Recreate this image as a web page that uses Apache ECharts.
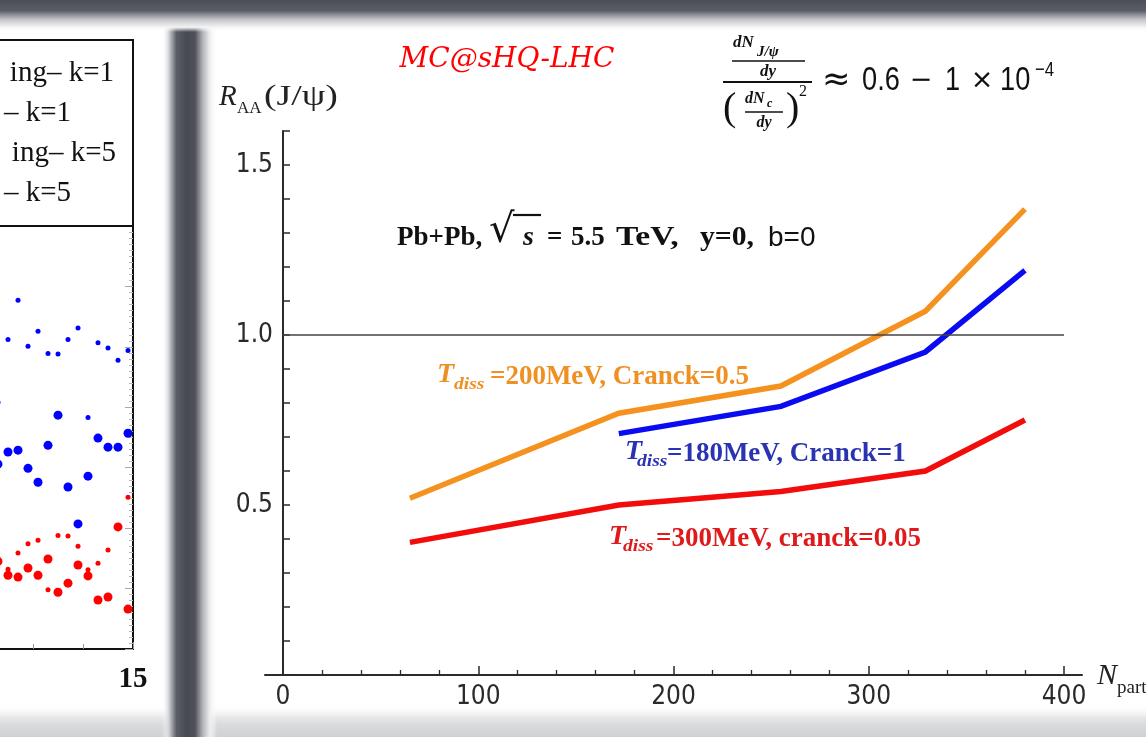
<!DOCTYPE html>
<html>
<head>
<meta charset="utf-8">
<script src="https://cdn.jsdelivr.net/npm/echarts@6/dist/echarts.min.js"></script>
<style>
  html, body { margin: 0; padding: 0; background: #fff; }
  #chart { width: 1146px; height: 737px; }
</style>
</head>
<body>
<div id="chart"></div>
<script>
// ---- Main panel: J/psi R_AA versus N_part (Pb+Pb, 5.5 TeV) ----
const npart      = [65, 172, 255, 329, 380];
const npartT180  = [172, 255, 329, 380];
const raaT200    = [0.52, 0.77, 0.85, 1.07, 1.37];   // Tdiss=200MeV, Cranck=0.5
const raaT180    = [0.71, 0.79, 0.95, 1.19];         // Tdiss=180MeV, Cranck=1
const raaT300    = [0.39, 0.50, 0.54, 0.60, 0.75];   // Tdiss=300MeV, cranck=0.05
const xTickValues = [0, 100, 200, 300, 400];
const yTickLabels = ['0.5', '1.0', '1.5'];
const yMax = 1.6;

// ---- Side panel (only its right edge is in view) ----
const sideBlueSmall = [[12.7,5.77],[12.5,5.12],[13.1,5.26],[12.9,5.01],[13.3,4.89],[13.5,4.88],[13.7,5.12],
  [13.9,5.31],[14.3,5.07],[14.5,4.98],[14.7,4.78],[14.9,4.94],[12.3,4.08],[14.1,3.83]];
const sideBlueBig = [[12.5,3.26],[12.7,3.29],[12.3,3.06],[12.9,2.99],[13.1,2.76],[13.3,3.37],[13.5,3.87],
  [13.7,2.68],[13.9,2.07],[14.1,2.86],[14.3,3.49],[14.5,3.34],[14.7,3.34],[14.9,3.57]];
const sideRedSmall = [[14.9,2.51],[12.7,1.59],[12.9,1.74],[13.1,1.80],[13.5,1.88],[13.7,1.87],[13.9,1.70],
  [13.3,0.98],[14.1,1.31],[14.3,1.42],[14.5,1.64],[12.5,1.32]];
const sideRedBig = [[12.3,1.45],[12.5,1.22],[12.7,1.19],[12.9,1.34],[13.1,1.22],[13.3,1.49],[13.5,0.94],
  [13.7,1.09],[13.9,1.39],[14.1,1.21],[14.3,0.81],[14.5,0.86],[14.7,2.02],[14.9,0.66]];
const sideLegend = ['ing\u2013 k=1', '\u2013 k=1', 'ing\u2013 k=5', '\u2013 k=5'];

const SERIF  = '"Liberation Serif", "Times New Roman", serif';
const SANS   = '"Liberation Sans", Arial, sans-serif';
const NARROW = '"Liberation Sans Narrow", "DejaVu Sans Condensed", sans-serif';
const DJS    = '"DejaVu Sans", sans-serif';

function txt(x, y, text, font, fill, opts) {
  opts = opts || {};
  return Object.assign({
    type: 'text', x: x, y: y, z: 50, silent: true,
    style: {
      text: text, font: font, fill: fill || '#111',
      align: opts.align || 'left', verticalAlign: 'middle',
      textAlign: opts.align || 'left', textVerticalAlign: 'middle'
    }
  }, opts.extra || {});
}
function hline(x1, x2, y, w, color) {
  return { type: 'line', z: 50, silent: true,
    shape: { x1: x1, y1: y, x2: x2, y2: y },
    style: { stroke: color || '#111', lineWidth: w } };
}

const chart = echarts.init(document.getElementById('chart'), null, { renderer: 'canvas' });

const lineSeries = (xs, ys, color, extra) => Object.assign({
  type: 'line', xAxisIndex: 0, yAxisIndex: 0,
  data: xs.map((x, i) => [x, ys[i]]),
  symbol: 'none', z: 3,
  lineStyle: { color: color, width: 5.5, join: 'miter' },
  itemStyle: { color: color }
}, extra || {});

const scatterSeries = (data, color, size) => ({
  type: 'scatter', xAxisIndex: 2, yAxisIndex: 2, data: data,
  symbolSize: size, itemStyle: { color: color, opacity: 1 }, z: 3
});

// background: slide frame shading
const bgRects = [
  { type: 'rect', z: -100, silent: true, shape: { x: 0, y: 704, width: 1146, height: 33 },
    style: { fill: { type: 'linear', x: 0, y: 0, x2: 0, y2: 1, colorStops: [
      { offset: 0, color: 'rgba(255,255,255,0)' }, { offset: 0.4, color: '#e8e8ea' },
      { offset: 0.65, color: '#d9dadc' }, { offset: 1, color: '#d0d1d4' } ] } } },
  { type: 'rect', z: -100, silent: true, shape: { x: 162, y: 0, width: 55, height: 737 },
    style: { fill: { type: 'linear', x: 0, y: 0, x2: 1, y2: 0, colorStops: [
      { offset: 0, color: 'rgba(255,255,255,0)' }, { offset: 0.12, color: '#d4d5d8' },
      { offset: 0.26, color: '#5c5f68' }, { offset: 0.45, color: '#464952' },
      { offset: 0.6, color: '#4e515a' }, { offset: 0.74, color: '#b2b4b9' },
      { offset: 0.87, color: '#eeeeef' }, { offset: 1, color: 'rgba(255,255,255,0)' } ] } } },
  { type: 'rect', z: -100, silent: true, shape: { x: 0, y: 0, width: 1146, height: 32 },
    style: { fill: { type: 'linear', x: 0, y: 0, x2: 0, y2: 1, colorStops: [
      { offset: 0, color: '#4b4e57' }, { offset: 0.33, color: '#5a5d66' },
      { offset: 0.6, color: '#c2c3c7' }, { offset: 0.85, color: '#f4f4f5' },
      { offset: 1, color: 'rgba(255,255,255,0)' } ] } } }
];

const ORANGE_T = '#ef9022', BLUE_T = '#2a33b2', RED_T = '#de1a1a';
const NUM = '34px ' + SANS;          // formula numerals, condensed via scaleX
const cond = { extra: { scaleX: 0.8 } };

const texts = [
  // side panel legend box
  { type: 'rect', z: 40, silent: true, shape: { x: -20, y: 40, width: 153, height: 186 },
    style: { fill: '#fff', stroke: '#111', lineWidth: 2 } },
  txt(114, 73, sideLegend[0], '29px ' + SERIF, '#111', { align: 'right' }),
  txt(71, 113, sideLegend[1], '29px ' + SERIF, '#111', { align: 'right' }),
  txt(116, 153, sideLegend[2], '29px ' + SERIF, '#111', { align: 'right' }),
  txt(71, 193, sideLegend[3], '29px ' + SERIF, '#111', { align: 'right' }),

  // title tag
  txt(507, 60, 'MC@sHQ-LHC', 'italic 28px "DejaVu Serif", serif', '#ff0000', { align: 'center' }),

  // y-axis name R_AA(J/psi)
  txt(219, 97, 'R', 'italic 29px ' + SERIF, '#222'),
  txt(237, 109, 'AA', '17px ' + SERIF, '#222'),
  txt(264, 97, '(J/\u03c8)', '29px ' + SERIF, '#222', { extra: { scaleX: 1.3 } }),

  // x-axis name N_part
  txt(1097, 676, 'N', 'italic 30px ' + SERIF, '#222'),
  txt(1117, 688, 'part', '19px ' + SERIF, '#222'),

  // ratio formula
  txt(733, 43, 'dN', 'italic bold 17px ' + SERIF, '#111'),
  txt(757, 52, 'J/\u03c8', 'italic bold 15px ' + SERIF, '#111'),
  hline(732, 805, 61, 1.5),
  txt(768, 72, 'dy', 'italic bold 17px ' + SERIF, '#111', { align: 'center' }),
  hline(723, 812, 82, 2),
  txt(723, 109, '(', '40px ' + SERIF, '#111'),
  txt(745, 99, 'dN', 'italic bold 16px ' + SERIF, '#111'),
  txt(767, 104, 'c', 'italic bold 12px ' + SERIF, '#111'),
  hline(745, 783, 112, 1.5),
  txt(764, 123, 'dy', 'italic bold 16px ' + SERIF, '#111', { align: 'center' }),
  txt(786, 109, ')', '40px ' + SERIF, '#111'),
  txt(799, 92, '2', '16px ' + SERIF, '#111'),
  txt(822, 81, '\u2248', '34px ' + DJS, '#111'),
  txt(862, 81, '0.6', NUM, '#111', cond),
  txt(921, 81, '\u2212', '27px ' + DJS, '#111', { align: 'center' }),
  txt(945, 81, '1', NUM, '#111', cond),
  txt(982, 81, '\u00d7', '27px ' + DJS, '#111', { align: 'center' }),
  txt(1000, 81, '10', NUM, '#111', cond),
  txt(1035, 70, '\u22124', '21px ' + SANS, '#111', cond),

  // collision system
  txt(397, 238, 'Pb+Pb,', 'bold 27px ' + SERIF, '#111'),
  txt(489, 232, '\u221a', '40px ' + DJS, '#111'),
  hline(513, 541, 215, 2.2),
  txt(523, 238, 's', 'italic bold 28px ' + SERIF, '#111'),
  txt(547, 238, '=', 'bold 27px ' + SERIF, '#111'),
  txt(571, 238, '5.5', 'bold 27px ' + SERIF, '#111'),
  txt(616, 238, 'TeV,', 'bold 28px ' + SERIF, '#111', { extra: { scaleX: 1.2 } }),
  txt(700, 238, 'y=0,', 'bold 27px ' + SERIF, '#111', { extra: { scaleX: 1.1 } }),
  txt(768, 238, 'b=0', '28px ' + SANS, '#111'),

  // curve annotations
  txt(437, 375, 'T', 'italic bold 28px ' + SERIF, ORANGE_T),
  txt(454, 385, 'diss', 'italic bold 17px ' + SERIF, ORANGE_T, { extra: { scaleX: 1.15 } }),
  txt(490, 377, '=200MeV, Cranck=0.5', 'bold 27px ' + SERIF, ORANGE_T),

  txt(625, 452, 'T', 'italic bold 28px ' + SERIF, BLUE_T),
  txt(637, 462, 'diss', 'italic bold 17px ' + SERIF, BLUE_T, { extra: { scaleX: 1.15 } }),
  txt(667, 454, '=180MeV, Cranck=1', 'bold 27px ' + SERIF, BLUE_T),

  txt(609, 537, 'T', 'italic bold 28px ' + SERIF, RED_T),
  txt(623, 547, 'diss', 'italic bold 17px ' + SERIF, RED_T, { extra: { scaleX: 1.15 } }),
  txt(656, 539, '=300MeV, cranck=0.05', 'bold 27px ' + SERIF, RED_T)
];

const axisDark = { color: '#2b2b2b', width: 2 };

const option = {
  animation: false,
  backgroundColor: '#ffffff',
  graphic: { elements: bgRects.concat(texts) },
  grid: [
    { left: 283, right: 82, top: 131, bottom: 62, outerBoundsMode: 'none' },      // main plot
    { left: 265, right: 64, top: 131, bottom: 62, outerBoundsMode: 'none' },      // extended baseline
    { left: -367, right: 1013, top: 226, bottom: 88, outerBoundsMode: 'none' }    // side panel
  ],
  xAxis: [
    { gridIndex: 0, type: 'value',
      min: xTickValues[0], max: xTickValues[xTickValues.length - 1],
      interval: xTickValues[1] - xTickValues[0],
      axisLine: { show: true, onZero: false, lineStyle: axisDark },
      axisTick: { show: true, inside: true, length: 9, lineStyle: { color: '#2b2b2b', width: 1.5 } },
      minorTick: { show: true, splitNumber: 5, length: 5, lineStyle: { color: '#2b2b2b', width: 1.3 } },
      axisLabel: { color: '#2a2a2a', fontFamily: NARROW, fontSize: 26, margin: 9 },
      splitLine: { show: false } },
    { gridIndex: 1, type: 'value', min: 0, max: 1,
      axisLine: { show: true, onZero: false, lineStyle: axisDark },
      axisTick: { show: false }, axisLabel: { show: false }, splitLine: { show: false } },
    { gridIndex: 2, type: 'value', min: 5, max: 15, interval: 5,
      axisLine: { show: true, onZero: false, lineStyle: { color: '#111', width: 2 } },
      axisTick: { show: true, inside: true, length: 7, lineStyle: { color: '#999' } },
      minorTick: { show: true, splitNumber: 5, length: 5, lineStyle: { color: '#999' } },
      axisLabel: { color: '#111', fontFamily: SERIF, fontWeight: 'bold', fontSize: 29, margin: 16 },
      splitLine: { show: false } }
  ],
  yAxis: [
    { gridIndex: 0, type: 'value', min: 0, max: yMax, interval: 0.1,
      axisLine: { show: true, onZero: false, lineStyle: axisDark },
      axisTick: { show: true, inside: true, length: 7, lineStyle: { color: '#2b2b2b', width: 1.5 } },
      axisLabel: { color: '#2a2a2a', fontFamily: NARROW, fontSize: 26, margin: 10,
        formatter: v => yTickLabels.includes(v.toFixed(1)) ? v.toFixed(1) : '' },
      splitLine: { show: false } },
    { gridIndex: 1, type: 'value', min: 0, max: 1, show: false },
    { gridIndex: 2, type: 'value', position: 'right', min: 0, max: 7, interval: 1,
      axisLine: { show: true, onZero: false, lineStyle: { color: '#111', width: 2 } },
      axisTick: { show: true, inside: true, length: 8, lineStyle: { color: '#aaa' } },
      minorTick: { show: true, splitNumber: 10, length: 4, lineStyle: { color: '#bbb' } },
      axisLabel: { show: false }, splitLine: { show: false } }
  ],
  series: [
    lineSeries(npart, raaT300, '#f20c0c', {
      markLine: { silent: true, symbol: ['none', 'none'], label: { show: false },
        lineStyle: { color: '#444', width: 1.6, type: 'solid' }, data: [{ yAxis: 1 }] } }),
    lineSeries(npartT180, raaT180, '#0b0bf2'),
    lineSeries(npart, raaT200, '#f5921f'),
    scatterSeries(sideBlueSmall, '#0000ff', 5),
    scatterSeries(sideBlueBig, '#0000ff', 9),
    scatterSeries(sideRedSmall, '#ff0000', 5),
    scatterSeries(sideRedBig, '#ff0000', 9)
  ]
};

chart.setOption(option);
</script>
</body>
</html>
